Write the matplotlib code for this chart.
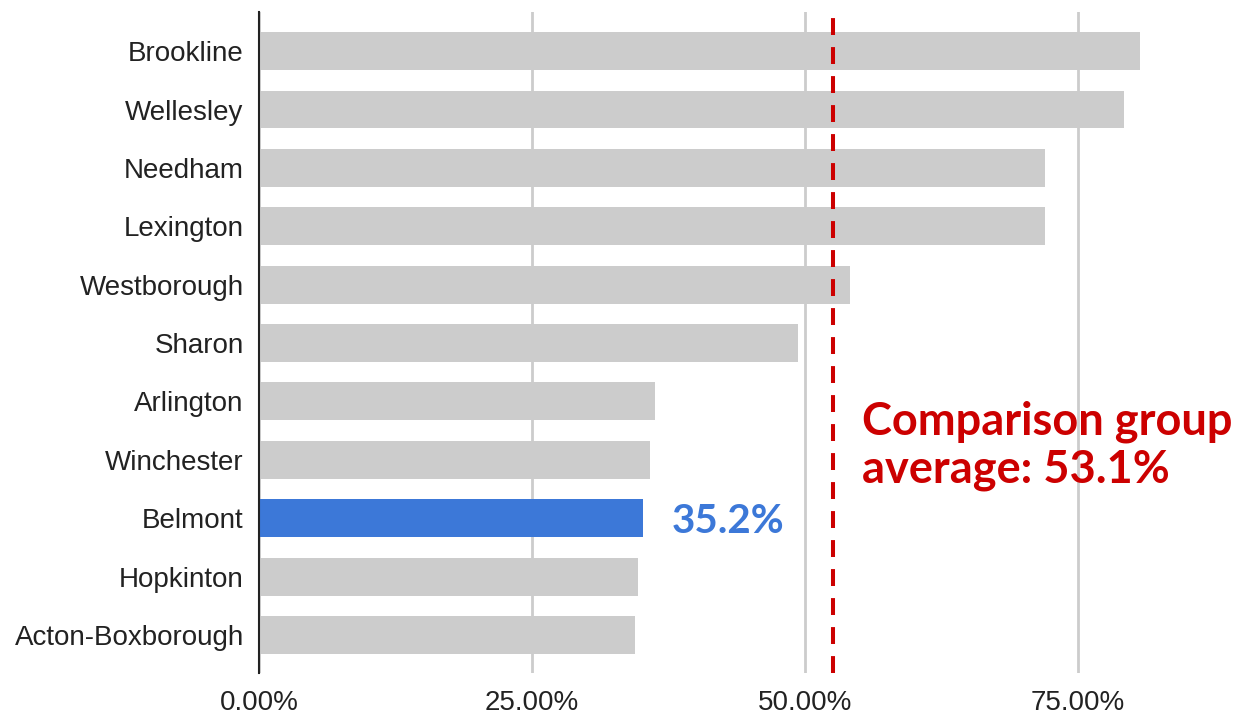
import matplotlib.pyplot as plt
from matplotlib.ticker import FuncFormatter

plt.rcParams["font.family"] = ["Liberation Sans", "DejaVu Sans"]

# data
towns = ["Brookline", "Wellesley", "Needham", "Lexington", "Westborough", "Sharon",
         "Arlington", "Winchester", "Belmont", "Hopkinton", "Acton-Boxborough"]
values = [80.7, 79.2, 72.0, 72.0, 54.1, 49.4, 36.3, 35.8, 35.2, 34.7, 34.4]
highlight = "Belmont"
group_avg = 53.1
avg_line_pos = 52.6
x_ticks = [0, 25, 50, 75]

grey = "#cccccc"
blue = "#3c78d8"
red = "#cc0000"

fig = plt.figure(figsize=(12.38, 7.18), dpi=100)
ax = fig.add_axes([259 / 1238, 45 / 718, 1 - 259 / 1238, (673 - 12) / 718])

y = list(range(len(towns)))
colors = [blue if t == highlight else grey for t in towns]
ax.barh(y, values, height=0.65, color=colors, zorder=2)

# average line
ax.axvline(avg_line_pos, color=red, linewidth=2.9, dashes=(4.2, 3.0), zorder=3)

ax.set_xlim(0, 89.65)
ax.set_ylim(len(towns) - 1 + 0.65, -0.67)

ax.set_yticks(y)
ax.set_yticklabels(towns)
ax.set_xticks(x_ticks)
ax.xaxis.set_major_formatter(FuncFormatter(lambda v, p: "{:.2f}%".format(v)))
ax.tick_params(axis="both", length=0, labelsize=20, colors="#222222")
ax.tick_params(axis="y", pad=11)
ax.tick_params(axis="x", pad=12)

ax.grid(axis="x", color=grey, linewidth=2, zorder=0)
for s in ["top", "right", "bottom"]:
    ax.spines[s].set_visible(False)
ax.spines["left"].set_linewidth(1.5)
ax.spines["left"].set_color("#222222")
ax.spines["left"].set_zorder(4)

# annotations
bi = towns.index(highlight)
ax.text(values[bi] + 2.6, bi + 0.05, "{:.1f}%".format(values[bi]), color=blue,
        fontsize=29, fontweight="bold", fontfamily="Lato", va="center", ha="left")
ax.text(55.2, 6.76, "Comparison group\naverage: {:.1f}%".format(group_avg), color=red,
        fontsize=32.5, fontweight="bold", fontfamily="Lato", va="center", ha="left",
        linespacing=1.15, clip_on=False)

fig.savefig("out.png", dpi=100)
